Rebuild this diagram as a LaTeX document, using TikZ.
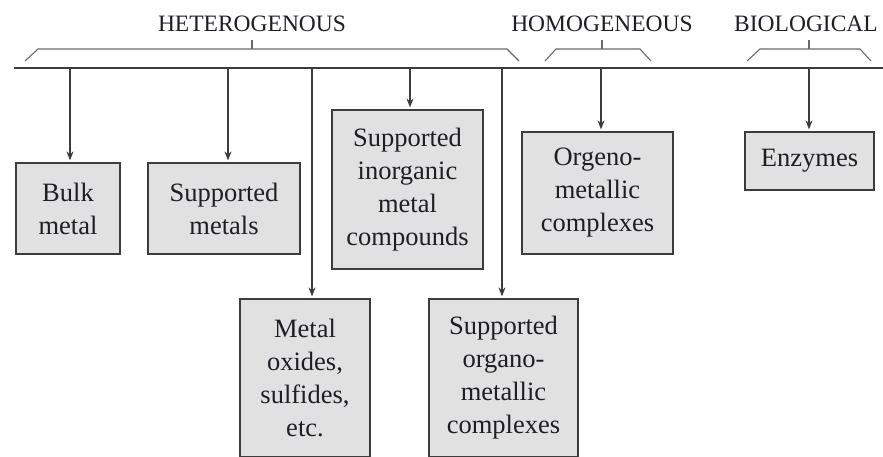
\documentclass[tikz,border=0pt]{standalone}
\usepackage{fontspec}
\setmainfont{Liberation Serif}
\usepackage{tikz}
\usetikzlibrary{
arrows.meta,
positioning,
calc
}
\definecolor{CatInk}{HTML}{1E1E24}
\definecolor{CatEdge}{HTML}{3C3C3C}
\definecolor{CatFill}{HTML}{E1E1E1}
\definecolor{CatBrace}{HTML}{6A6A6A}
\tikzset{
catbox/.style={draw=CatEdge, fill=CatFill, line width=1.2pt, align=center,
  inner sep=0pt, text=CatInk, font=\fontsize{26.5}{33}\selectfont},
cathead/.style={text=CatInk, inner sep=0pt, font=\fontsize{23.5}{28}\selectfont},
catarrow/.style={-{Stealth[length=9pt, width=7pt]}, line width=1.2pt, draw=CatEdge,
  shorten >=2pt},
catbrace/.style={draw=CatBrace, line width=1.1pt},
catline/.style={draw=CatEdge, line width=1.3pt}
}
\begin{document}
\begin{tikzpicture}[x=1pt, y=-1pt]
\useasboundingbox (0,0) rectangle (883,457);

% class headings
\node[cathead] (het) at (252,24) {HETEROGENOUS};
\node[cathead] (hom) at (602,24) {HOMOGENEOUS};
\node[cathead] (bio) at (806,24) {BIOLOGICAL};

% braces
\draw[catbrace] (25,61) -- (38,49) -- (507,49) -- (519,61);
\draw[catbrace] (252,49) -- (252,40);
\draw[catbrace] (545,61) -- (556,49) -- (640,49) -- (651,61);
\draw[catbrace] (602,49) -- (602,40);
\draw[catbrace] (747,61) -- (760,49) -- (860,49) -- (871,61);
\draw[catbrace] (809,49) -- (809,40);

% main rail
\coordinate (railL) at (14,68);
\coordinate (railR) at (883,68);
\draw[catline] (railL) -- (railR);

% catalyst boxes
\node[catbox, minimum width=104pt, minimum height=91pt] (bulk) at (68,208.5) {Bulk\\metal};
\node[catbox, minimum width=152pt, minimum height=91pt] (supm) at (224,208.5) {Supported\\metals};
\node[catbox, minimum width=130pt, minimum height=158pt] (oxid) at (305,378) {Metal\\oxides,\\sulfides,\\etc.};
\node[catbox, minimum width=151pt, minimum height=159pt] (inorg) at (407.5,189.5) {Supported\\inorganic\\metal\\compounds};
\node[catbox, minimum width=149pt, minimum height=158pt] (sorg) at (503.5,378) {Supported\\organo-\\metallic\\complexes};
\node[catbox, minimum width=151pt, minimum height=122pt] (orgm) at (597.5,193) {Orgeno-\\metallic\\complexes};
\node[catbox, minimum width=129pt, minimum height=58pt] (enz) at (809.5,161) {Enzymes};

% drops from the rail
\coordinate (dBulk) at (70,68);
\coordinate (dSupm) at (228,68);
\coordinate (dOxid) at (312,68);
\coordinate (dInorg) at (410,68);
\coordinate (dSorg) at (502,68);
\coordinate (dOrgm) at (601,68);
\coordinate (dEnz) at (809,68);

\draw[catarrow] (dBulk) -- (dBulk |- bulk.north);
\draw[catarrow] (dSupm) -- (dSupm |- supm.north);
\draw[catarrow] (dOxid) -- (dOxid |- oxid.north);
\draw[catarrow] (dInorg) -- (dInorg |- inorg.north);
\draw[catarrow] (dSorg) -- (dSorg |- sorg.north);
\draw[catarrow] (dOrgm) -- (dOrgm |- orgm.north);
\draw[catarrow] (dEnz) -- (dEnz |- enz.north);
\end{tikzpicture}
\end{document}
